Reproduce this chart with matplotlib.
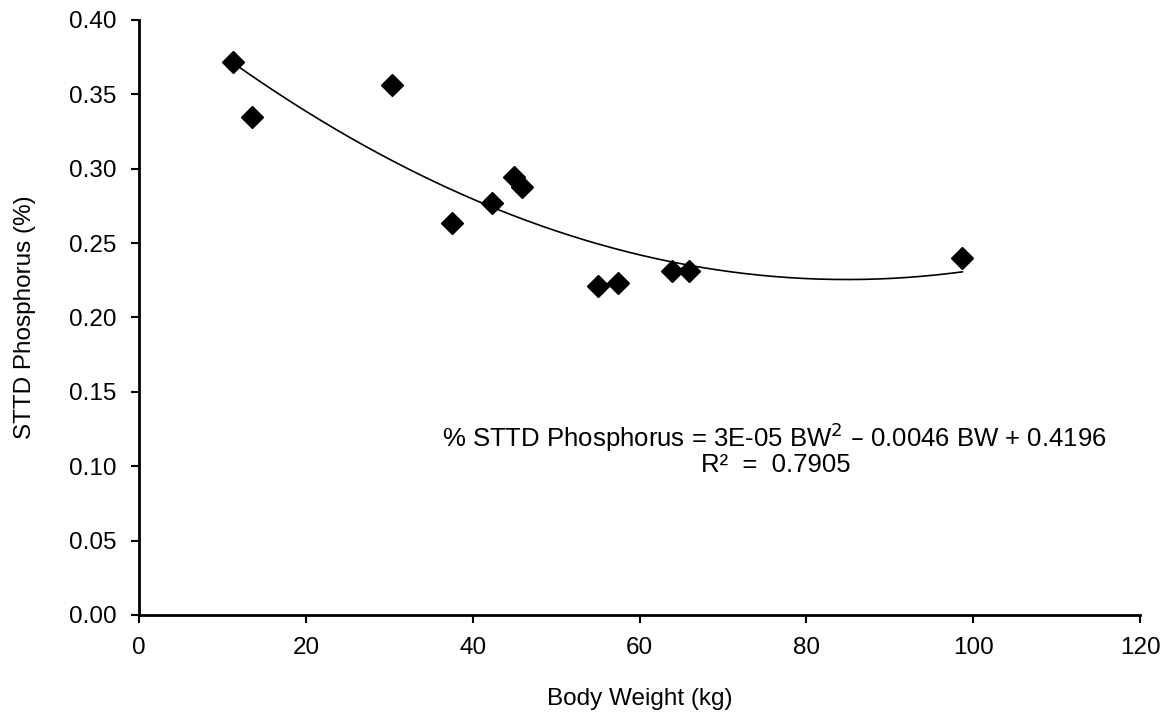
import matplotlib.pyplot as plt
import numpy as np

plt.rcParams['font.family'] = ['Liberation Sans', 'DejaVu Sans']

# Body weight (kg) and STTD phosphorus (%)
body_weight = [11.3, 13.5, 30.3, 37.5, 42.3, 45.0, 45.9, 55.0, 57.4, 63.9, 65.9, 98.7]
sttd_p = [0.372, 0.335, 0.356, 0.2635, 0.277, 0.2945, 0.288, 0.221, 0.223, 0.231, 0.231, 0.240]

x_ticks = [0, 20, 40, 60, 80, 100, 120]
y_ticks = [0.00, 0.05, 0.10, 0.15, 0.20, 0.25, 0.30, 0.35, 0.40]

# quadratic trendline, like the Excel one
coef = np.polyfit(body_weight, sttd_p, 2)
bw_line = np.linspace(min(body_weight), max(body_weight), 200)

fs = 17.5

fig = plt.figure(figsize=(11.64, 7.15), dpi=100)
ax = fig.add_axes([0.1194, 0.1399, 0.86, 0.8322])

ax.plot(bw_line, np.polyval(coef, bw_line), color='black', linewidth=1.2)
ax.plot(body_weight, sttd_p, linestyle='None', marker='D', markersize=11,
        color='black', zorder=3)

ax.set_xlim(0, 120)
ax.set_ylim(0, 0.40)
ax.set_xticks(x_ticks)
ax.set_yticks(y_ticks)
ax.set_yticklabels([f'{v:.2f}' for v in y_ticks])
ax.tick_params(direction='out', length=6, width=1.5, labelsize=fs)
ax.tick_params(axis='y', pad=10)
ax.tick_params(axis='x', pad=10)

for side in ['top', 'right']:
    ax.spines[side].set_visible(False)
for side in ['left', 'bottom']:
    ax.spines[side].set_linewidth(2)

ax.set_xlabel('Body Weight (kg)', fontsize=fs, labelpad=21)
ax.set_ylabel('STTD Phosphorus (%)', fontsize=fs, labelpad=24)

ax.text(76.1, 0.1197, '% STTD Phosphorus = 3E-05 BW$^2$ \u2013 0.0046 BW + 0.4196',
        ha='center', va='center', fontsize=18.5)
ax.text(76.3, 0.1008, 'R\u00b2  =  0.7905', ha='center', va='center', fontsize=18.5)

fig.savefig('out.png', dpi=100)
